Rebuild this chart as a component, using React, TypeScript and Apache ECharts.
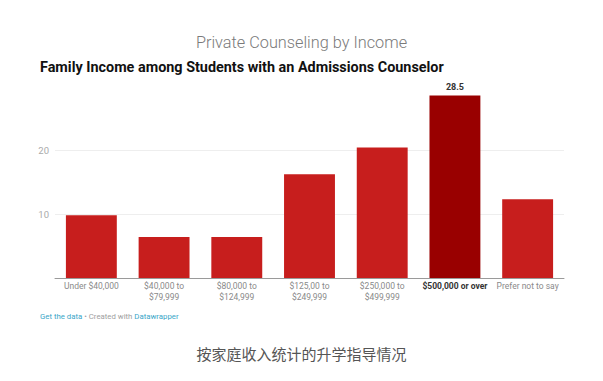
import React, { useEffect, useRef } from "react";
import * as echarts from "echarts";

const categories = [
  "Under $40,000",
  "$40,000 to\n$79,999",
  "$80,000 to\n$124,999",
  "$125,00 to\n$249,999",
  "$250,000 to\n$499,999",
  "$500,000 or over",
  "Prefer not to say",
];
const values = [9.8, 6.4, 6.4, 16.2, 20.4, 28.5, 12.3];
const highlightIndex = 5;
const yTicks = [10, 20];

const title = "Private Counseling by Income";
const subtitle = "Family Income among Students with an Admissions Counselor";
const caption = "按家庭收入统计的升学指导情况";

export default function App() {
  const ref = useRef<HTMLDivElement>(null);
  useEffect(() => {
    if (!ref.current) return;
    const chart = echarts.init(ref.current, null, { renderer: "svg" });
    const font = "Roboto, 'Noto Sans', sans-serif";
    chart.setOption({
      animation: false,
      backgroundColor: "#ffffff",
      textStyle: { fontFamily: font },
      grid: { left: 55, right: 39, top: 86, bottom: 103, containLabel: false },
      xAxis: {
        type: "category",
        data: categories,
        axisTick: { show: false },
        axisLine: { show: true, lineStyle: { color: "#9a9a9a", width: 1 } },
        axisLabel: {
          interval: 0,
          margin: 3,
          fontSize: 8.5,
          lineHeight: 10.5,
          color: "#8a8a8a",
          fontFamily: font,
          formatter: (v: string) => (v === categories[highlightIndex] ? `{b|${v}}` : v),
          rich: {
            b: { fontWeight: "bold", color: "#333", fontSize: 8.5, fontFamily: font },
          },
        },
      },
      yAxis: {
        type: "value",
        min: 0,
        max: 30,
        interval: 10,
        axisLine: { show: false },
        axisTick: { show: false },
        axisLabel: {
          margin: 6,
          fontSize: 9.5,
          color: "#aaaaaa",
          fontFamily: font,
          formatter: (v: number) => (yTicks.includes(v) ? String(v) : ""),
        },
        splitLine: {
          show: true,
          showMinLine: false,
          showMaxLine: false,
          lineStyle: { color: "#eeeeee", width: 1 },
        },
      },
      series: [
        {
          type: "bar",
          barWidth: "70%",
          data: values.map((v, i) =>
            i === highlightIndex
              ? {
                  value: v,
                  itemStyle: { color: "#990000" },
                  label: {
                    show: true,
                    position: "top",
                    distance: 4,
                    fontSize: 9,
                    fontWeight: "bold",
                    color: "#333",
                    fontFamily: font,
                  },
                }
              : { value: v, itemStyle: { color: "#c71e1d" } }
          ),
        },
      ],
      graphic: [
        {
          type: "text",
          left: "center",
          top: 34,
          style: {
            text: title,
            fontSize: 16.3,
            fontWeight: 300,
            fill: "#7a7a7a",
            fontFamily: font,
          },
        },
        {
          type: "text",
          left: 40,
          top: 60,
          style: {
            text: subtitle,
            fontSize: 14.4,
            fontWeight: "bold",
            fill: "#111",
            fontFamily: font,
          },
        },
        {
          type: "text",
          left: 40,
          top: 312,
          style: {
            text: "{a|Get the data} {g|• Created with} {a|Datawrapper}",
            fontSize: 7.8,
            fontFamily: font,
            rich: {
              a: { fill: "#3aa6c8", fontSize: 7.8, fontFamily: font },
              g: { fill: "#a0a0a0", fontSize: 7.8, fontFamily: font },
            },
          },
        },
        {
          type: "text",
          left: "center",
          top: 346,
          style: {
            text: caption,
            fontSize: 15,
            fill: "#555",
            fontFamily: "'Noto Sans CJK SC', sans-serif",
          },
        },
      ],
    });
    return () => chart.dispose();
  }, []);
  return (
    <div
      ref={ref}
      style={{ position: "fixed", left: 0, top: 0, width: 603, height: 381 }}
    />
  );
}
